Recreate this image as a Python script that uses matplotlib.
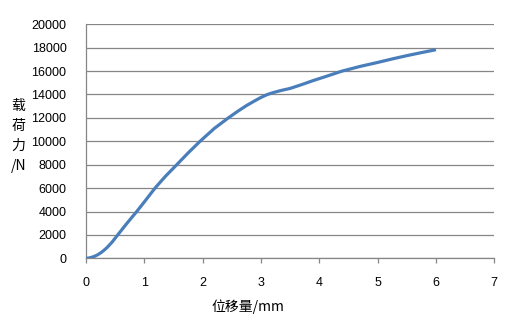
import matplotlib
matplotlib.use("Agg")
import matplotlib.pyplot as plt
import numpy as np

# displacement (mm) and load (N)
disp = [0, 0.05, 0.1, 0.15, 0.2, 0.25, 0.3, 0.36, 0.45, 0.544, 0.7, 0.87,
        1.0, 1.18, 1.28, 1.37, 1.556, 1.75, 1.955, 2.2, 2.44, 2.6, 2.75,
        2.9, 3.0, 3.1, 3.2, 3.35, 3.5, 3.7, 3.9, 4.1, 4.39, 4.7, 5.0,
        5.25, 5.5, 5.75, 6.0]
load = [0, 25, 90, 180, 300, 460, 650, 915, 1400, 2000, 2980, 4000,
        4820, 5980, 6550, 7050, 8000, 9000, 10000, 11100, 12000, 12560,
        13050, 13480, 13750, 13980, 14150, 14350, 14520, 14850, 15200,
        15520, 16000, 16400, 16740, 17040, 17320, 17580, 17830]

xticks = np.arange(0, 8, 1)
yticks = np.arange(0, 22000, 2000)

grey = '#868686'
blue = '#4A7EBB'

fig = plt.figure(figsize=(5.15, 3.19), dpi=100)
ax = fig.add_axes([86 / 515, 60.7 / 319, 408.3 / 515, 234 / 319])

ax.plot(disp, load, color=blue, lw=2.3, solid_capstyle='butt',
        solid_joinstyle='round', zorder=3)

ax.set_xlim(0, 7)
ax.set_ylim(0, 20000)
ax.set_xticks(xticks)
ax.set_yticks(yticks)
ax.grid(axis='y', color=grey, lw=0.9)
ax.set_axisbelow(True)

for s in ['top', 'right']:
    ax.spines[s].set_visible(False)
for s in ['left', 'bottom']:
    ax.spines[s].set_color(grey)
    ax.spines[s].set_linewidth(0.9)

ax.tick_params(axis='x', length=3.5, color=grey, width=0.9, pad=10,
               labelsize=9)
ax.tick_params(axis='y', length=0, pad=14, labelsize=9)
for lab in ax.get_xticklabels() + ax.get_yticklabels():
    lab.set_family('Liberation Sans')

fig.text(248 / 515, 1 - 307 / 319, '位移量/mm', ha='center', va='center',
         fontsize=10, family=['Noto Sans CJK SC', 'DejaVu Sans'])
fig.text(18.5 / 515, 1 - 136 / 319, '载\n荷\n力\n/N', ha='center',
         va='center', fontsize=10, linespacing=1.55,
         family=['Noto Sans CJK SC', 'DejaVu Sans'])

fig.savefig('out.png', dpi=100)
